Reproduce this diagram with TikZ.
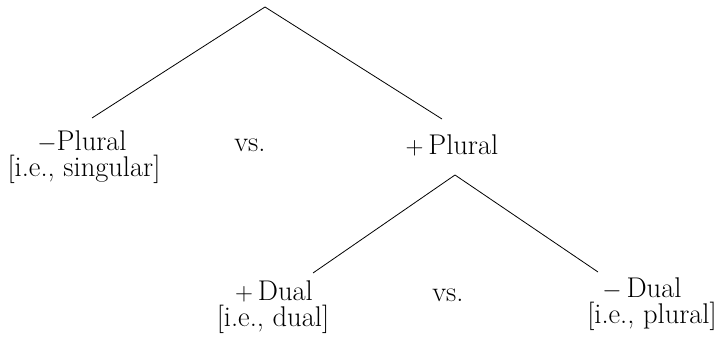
\documentclass[tikz,border=0pt]{standalone}
\usepackage{tikz}
\begin{document}
\begin{tikzpicture}[x=1pt,y=-1pt,
  lbl/.style={anchor=base,inner sep=0pt,font=\fontsize{28.5}{32}\selectfont},
  branch/.style={line width=0.8pt}]
\useasboundingbox (0,0) rectangle (721,347);
% tree points
\coordinate (root) at (265,7);
\coordinate (lend) at (92,118);
\coordinate (rend) at (442,119);
\coordinate (sub) at (455,175);
\coordinate (dlend) at (313,273);
\coordinate (drend) at (598,272);
% labels
\node[lbl] (mpl) at (82,151) {$-$Plural};
\node[lbl] (sing) at (84,177) {[i.e., singular]};
\node[lbl] (vs1) at (250,152) {vs.};
\node[lbl] (ppl) at (452,155) {$+$\,Plural};
\node[lbl] (pdu) at (274,301) {$+$\,Dual};
\node[lbl] (dual) at (273,327) {[i.e., dual]};
\node[lbl] (vs2) at (448,302) {vs.};
\node[lbl] (mdu) at (642,298) {$-$\,Dual};
\node[lbl] (plur) at (652,324) {[i.e., plural]};
% branches
\draw[branch] (lend) -- (root) -- (rend);
\draw[branch] (dlend) -- (sub) -- (drend);
\end{tikzpicture}
\end{document}
